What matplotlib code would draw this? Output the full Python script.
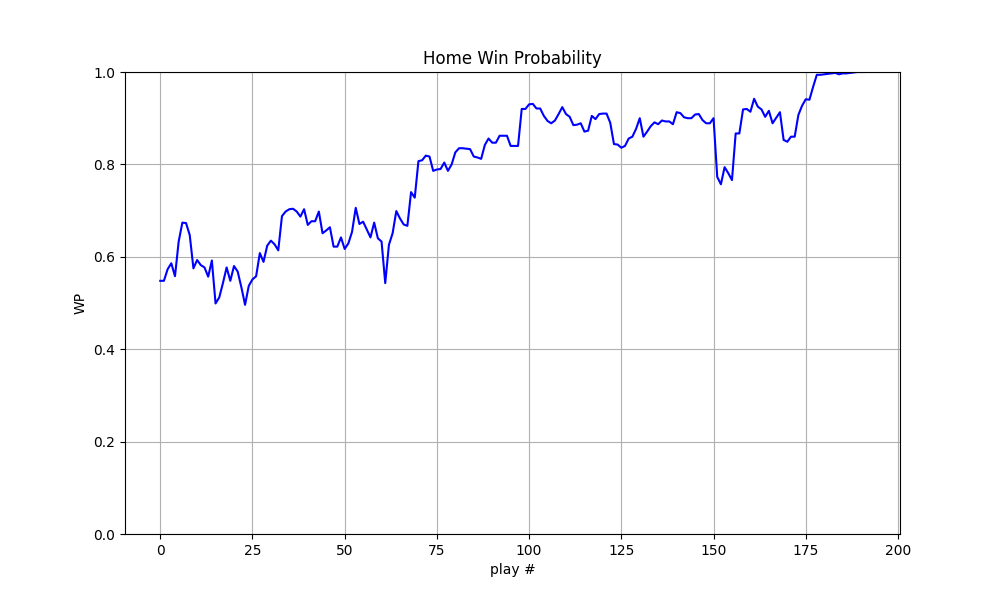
import numpy as np
import matplotlib
matplotlib.use('Agg')
import matplotlib.pyplot as plt

# home win probability after each play
wp = [0.548, 0.548, 0.573, 0.586, 0.558, 0.633, 0.674, 0.673, 0.647, 0.575,
      0.593, 0.582, 0.577, 0.557, 0.592, 0.499, 0.512, 0.543, 0.577, 0.548,
      0.580, 0.568, 0.534, 0.496, 0.537, 0.551, 0.558, 0.608, 0.589, 0.624,
      0.635, 0.627, 0.614, 0.688, 0.698, 0.703, 0.704, 0.698, 0.687, 0.703,
      0.669, 0.677, 0.677, 0.698, 0.651, 0.657, 0.664, 0.622, 0.622, 0.642,
      0.617, 0.629, 0.654, 0.706, 0.671, 0.676, 0.659, 0.642, 0.674, 0.640,
      0.633, 0.543, 0.626, 0.651, 0.699, 0.683, 0.670, 0.667, 0.740, 0.728,
      0.807, 0.809, 0.819, 0.817, 0.786, 0.789, 0.790, 0.804, 0.786, 0.800,
      0.826, 0.835, 0.835, 0.834, 0.833, 0.817, 0.815, 0.812, 0.842, 0.856,
      0.847, 0.847, 0.862, 0.862, 0.862, 0.840, 0.840, 0.840, 0.920, 0.920,
      0.930, 0.931, 0.921, 0.921, 0.905, 0.894, 0.889, 0.895, 0.909, 0.924,
      0.909, 0.903, 0.885, 0.886, 0.889, 0.871, 0.873, 0.905, 0.898, 0.909,
      0.910, 0.910, 0.890, 0.844, 0.843, 0.836, 0.840, 0.856, 0.860, 0.877,
      0.900, 0.860, 0.871, 0.883, 0.891, 0.887, 0.895, 0.893, 0.893, 0.887,
      0.913, 0.911, 0.902, 0.900, 0.900, 0.908, 0.909, 0.896, 0.889, 0.889,
      0.900, 0.773, 0.757, 0.794, 0.781, 0.766, 0.867, 0.867, 0.919, 0.920,
      0.914, 0.942, 0.925, 0.919, 0.903, 0.916, 0.889, 0.901, 0.913, 0.853,
      0.849, 0.860, 0.860, 0.907, 0.927, 0.941, 0.940, 0.968, 0.994, 0.994,
      0.995, 0.996, 0.997, 0.998, 0.995, 0.997, 0.997, 0.998, 0.999, 1.0,
      1.0, 1.0]
plays = np.arange(len(wp))

fig, ax = plt.subplots(figsize=(10, 6), dpi=100)
ax.plot(plays, wp, color='blue')
ax.set_ylim(0, 1)
ax.set_title('Home Win Probability')
ax.set_xlabel('play #')
ax.set_ylabel('WP')
ax.grid(True)
plt.savefig('out.png')
